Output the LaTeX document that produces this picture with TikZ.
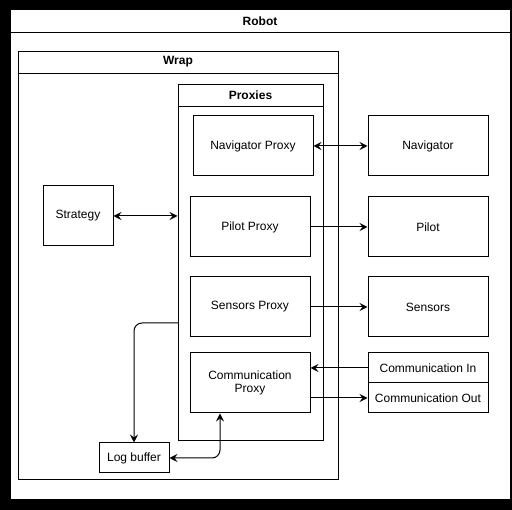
\documentclass[tikz,border=0pt]{standalone}
\usepackage{fontspec}
\setmainfont{Liberation Sans}
\usetikzlibrary{arrows.meta}
\begin{document}
\begin{tikzpicture}[x=1pt,y=-1pt,
  every node/.style={font=\fontsize{12}{13.5}\selectfont},
  box/.style={draw=black,fill=white,line width=1pt,inner sep=0pt,align=center},
  ttl/.style={font=\fontsize{12}{13.5}\selectfont\bfseries},
  conn/.style={line width=1pt},
  arr/.style={conn,-{Stealth[length=8pt,width=8pt,inset=3pt]}},
  darr/.style={conn,{Stealth[length=8pt,width=8pt,inset=3pt]}-{Stealth[length=8pt,width=8pt,inset=3pt]}}]
\useasboundingbox (0,0) rectangle (512,510);
\fill[black] (0,0) rectangle (512,510);
% containers
\node[box,minimum width=500pt,minimum height=490pt] (robot) at (260,255) {};
\draw[line width=1pt] ([yshift=-23pt]robot.north west) -- ([yshift=-23pt]robot.north east);
\node[ttl] (robott) at (260,21) {Robot};
\node[box,minimum width=320pt,minimum height=428pt] (wrap) at (178,266) {};
\draw[line width=1pt] ([yshift=-22pt]wrap.north west) -- ([yshift=-22pt]wrap.north east);
\node[ttl] (wrapt) at (178,62) {Wrap};
\node[box,minimum width=145pt,minimum height=356pt] (proxies) at (250.5,263) {};
\draw[line width=1pt] ([yshift=-22pt]proxies.north west) -- ([yshift=-22pt]proxies.north east);
\node[ttl] (proxiest) at (250.5,95) {Proxies};
% proxies
\node[box,minimum width=120pt,minimum height=60pt] (navp) at (253,146) {Navigator Proxy};
\node[box,minimum width=120pt,minimum height=60pt] (pilotp) at (250,227) {Pilot Proxy};
\node[box,minimum width=120pt,minimum height=60pt] (sensp) at (250,307) {Sensors Proxy};
\node[box,minimum width=120pt,minimum height=60pt] (commp) at (250,383) {Communication\\Proxy};
% external
\node[box,minimum width=120pt,minimum height=60pt] (nav) at (428,146) {Navigator};
\node[box,minimum width=120pt,minimum height=60pt] (pilot) at (428,227) {Pilot};
\node[box,minimum width=120pt,minimum height=60pt] (sens) at (428,307) {Sensors};
\node[box,minimum width=120pt,minimum height=30pt] (cin) at (428,368) {Communication In};
\node[box,minimum width=120pt,minimum height=30pt] (cout) at (428,398) {Communication Out};
% wrap content
\node[box,minimum width=70pt,minimum height=60pt] (strat) at (78,216) {Strategy};
\node[box,minimum width=70pt,minimum height=30pt] (log) at (134,458) {Log buffer};
% connectors
\draw[darr] (navp.east) -- (nav.west);
\draw[arr] (pilotp.east) -- (pilot.west);
\draw[arr] (sensp.east) -- (sens.west);
\draw[arr] (cin.west) -- (cin.west -| commp.east);
\draw[arr] (cout.west -| commp.east) -- (cout.west);
\draw[darr] (strat.east) -- (strat.east -| proxies.west);
\coordinate (lp) at (178,323);
\draw[arr,rounded corners=8pt] (lp) -| (log.north);
\draw[darr,rounded corners=8pt] (log.east) -| ([xshift=-30pt]commp.south);
\end{tikzpicture}
\end{document}
